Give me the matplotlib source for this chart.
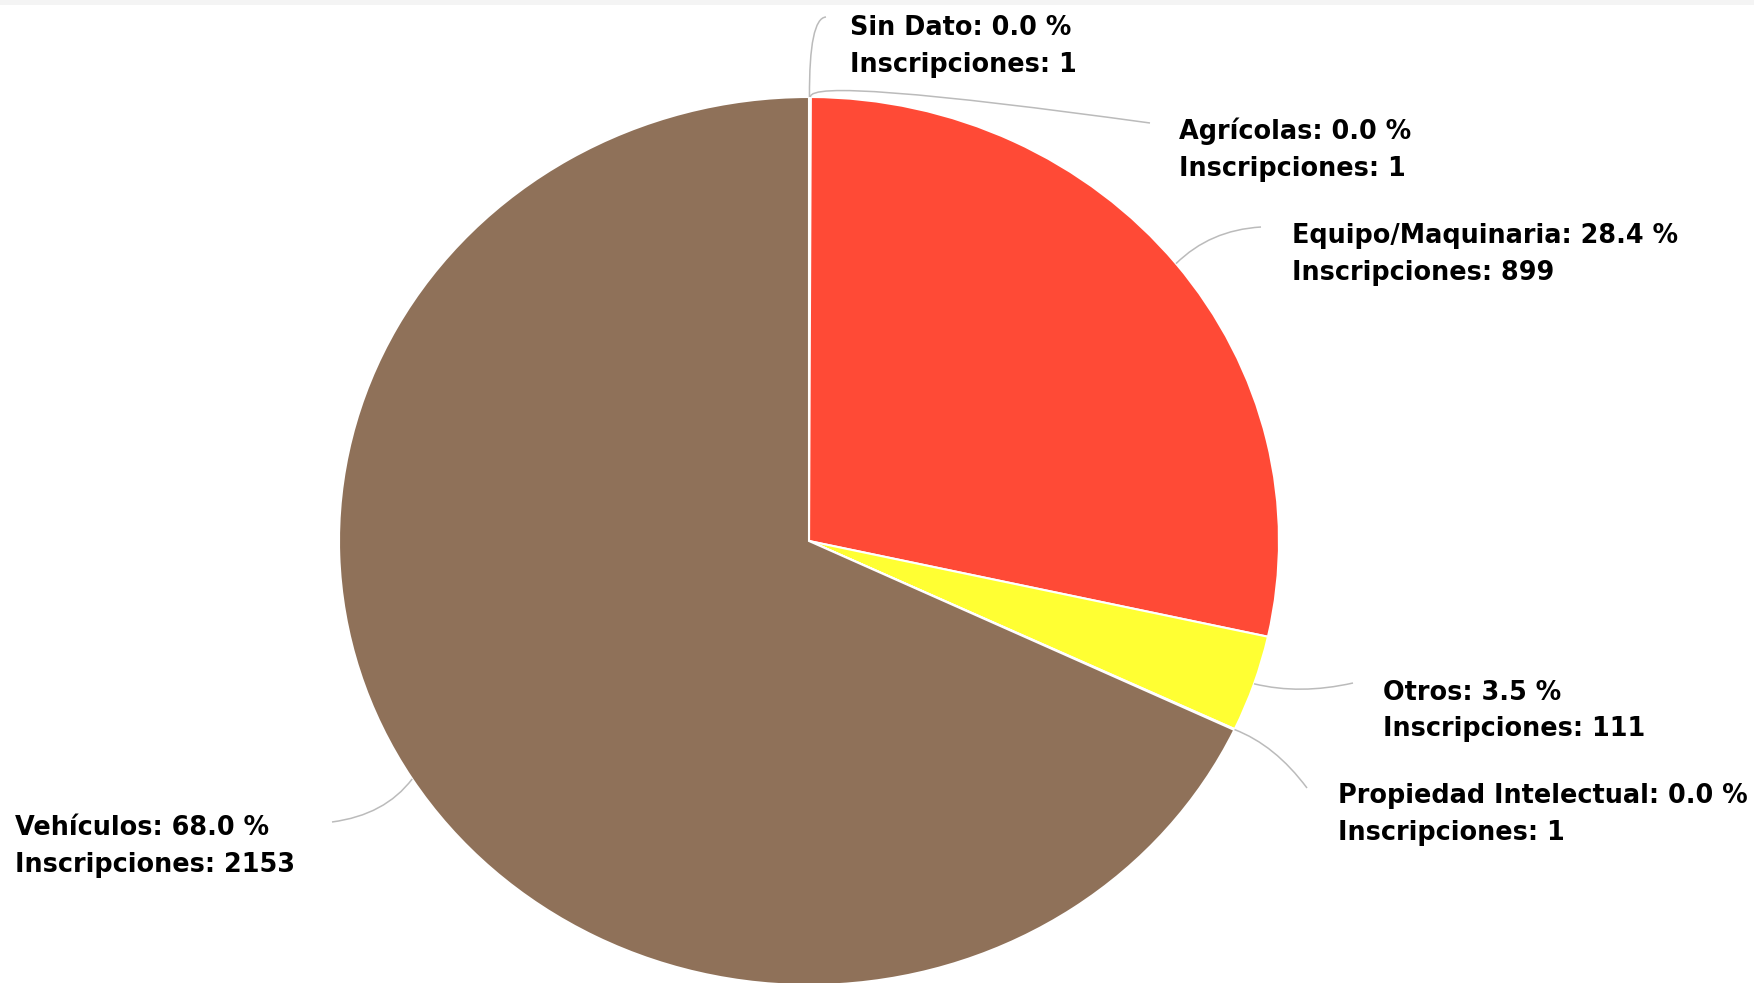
import numpy as np
import matplotlib
matplotlib.use("Agg")
import matplotlib.pyplot as plt
from matplotlib.path import Path
from matplotlib.patches import PathPatch, Rectangle

# data
categories = ["Sin Dato", "Agrícolas", "Equipo/Maquinaria", "Otros",
              "Propiedad Intelectual", "Vehículos"]
inscripciones = [1, 1, 899, 111, 1, 2153]
colors = ["#7CB5EC", "#90ED7D", "#FF4A36", "#FFFF33", "#F7A35C", "#8F7159"]

# layout (pixels from top-left of the image)
W, H = 1754, 983
CX, CY = 809, 541      # pie centre
RX, RY = 470, 444      # pie looks slightly stretched horizontally
label_xy = [(850, 35), (1179, 139), (1292, 243), (1383, 700), (1338, 803), (15, 835)]
conn_ctrl = [(809, 18), (809, 76), (1210, 230), (1300, 695), (1275, 745), (385, 815)]
conn_end = [(826, 17), (1150, 123), (1261, 227), (1353, 683), (1307, 788), (332, 822)]
LINE_STEP = 36.5


def px2d(px, py):
    return ((px - CX) / RX, (CY - py) / RY)


fig = plt.figure(figsize=(W / 100, H / 100), dpi=100)
ax = fig.add_axes([0, 0, 1, 1])

wedges, _ = ax.pie(inscripciones, colors=colors, startangle=90, counterclock=False,
                   radius=1, wedgeprops=dict(edgecolor="white", linewidth=1.5))
ax.set_aspect("auto")
ax.set_xlim((0 - CX) / RX, (W - CX) / RX)
ax.set_ylim((CY - H) / RY, CY / RY)
ax.axis("off")

total = sum(inscripciones)
for i, w in enumerate(wedges):
    mid = np.deg2rad((w.theta1 + w.theta2) / 2)
    start = (np.cos(mid), np.sin(mid))
    verts = [start, px2d(*conn_ctrl[i]), px2d(*conn_end[i])]
    path = Path(verts, [Path.MOVETO, Path.CURVE3, Path.CURVE3])
    ax.add_patch(PathPatch(path, facecolor="none", edgecolor="#BBBBBB", lw=1.1, clip_on=False))

    pct = inscripciones[i] / total * 100
    lines = [f"{categories[i]}: {pct:.1f} %", f"Inscripciones: {inscripciones[i]}"]
    lx, ly = label_xy[i]
    for k, txt in enumerate(lines):
        ax.text(*px2d(lx, ly + k * LINE_STEP), txt, ha="left", va="baseline",
                fontsize=18.4, fontweight="bold", color="black", family="DejaVu Sans")

# thin grey band at the top edge
fig.patches.append(Rectangle((0, 1 - 5 / H), 1, 5 / H, transform=fig.transFigure,
                             facecolor="#F4F4F4", edgecolor="none"))

fig.savefig("out.png", dpi=100)
